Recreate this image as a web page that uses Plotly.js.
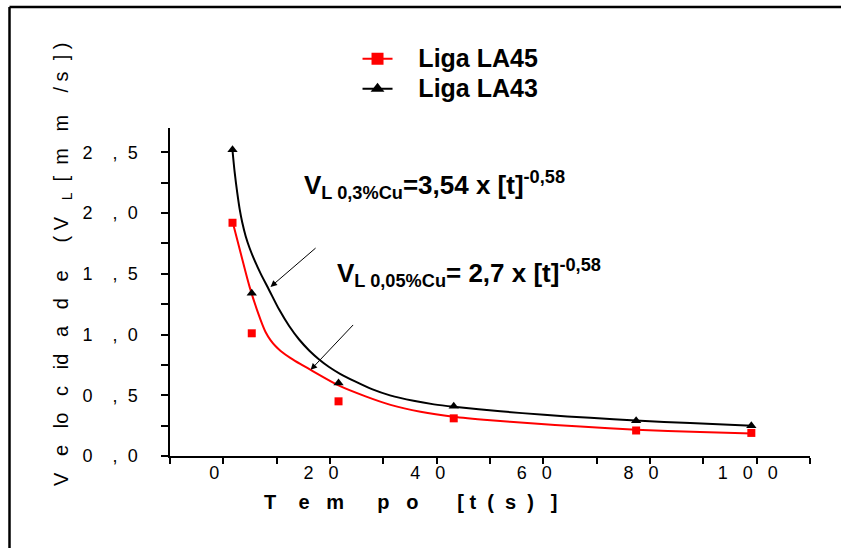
<!DOCTYPE html>
<html>
<head>
<meta charset="utf-8">
<script src="https://cdn.plot.ly/plotly-3.0.1.min.js"></script>
<style>html,body{margin:0;padding:0;background:#fff;}#chart{width:841px;height:548px;}</style>
</head>
<body>
<div id="chart"></div>
<script>
// ---- data ----
const tempo = [1.72, 5.33, 21.6, 43.2, 77.4, 99.0];
const velLA45 = [1.92, 1.01, 0.45, 0.31, 0.21, 0.19];
const velLA43 = [2.52, 1.34, 0.60, 0.41, 0.29, 0.25];

// fitted curves as drawn in the reference
const fitTempoLA43 = [1.72, 2.13, 2.60, 3.07, 3.54, 4.19, 4.94, 5.88, 7.00, 8.60, 10.47, 12.34, 14.21, 16.09, 17.96, 19.83,
                      21.89, 24.70, 27.98, 31.25, 35.66, 39.49, 43.24, 51.95, 60.13, 68.80, 77.32, 87.53, 99.10];
const fitLA43 = [2.515, 2.334, 2.170, 2.030, 1.924, 1.809, 1.710, 1.608, 1.501, 1.365, 1.205, 1.070, 0.959, 0.869, 0.795, 0.733,
                 0.677, 0.614, 0.548, 0.499, 0.454, 0.425, 0.405, 0.368, 0.339, 0.314, 0.292, 0.271, 0.249];
const fitTempoLA45 = [1.76, 3.26, 4.94, 7.00, 7.94, 8.88, 9.81, 10.75, 12.62, 14.49, 16.37, 21.80, 26.67, 31.35, 36.97,
                      43.15, 50.08, 57.0, 66.93, 77.42, 89.4, 99.1];
const fitLA45 = [1.924, 1.669, 1.390, 1.119, 1.019, 0.952, 0.903, 0.865, 0.806, 0.756, 0.709, 0.577, 0.491, 0.421, 0.364,
                 0.323, 0.294, 0.271, 0.242, 0.216, 0.198, 0.186];

const seriesNames = ['Liga LA45', 'Liga LA43'];
const xTickVals = [-10, 0, 10, 20, 30, 40, 50, 60, 70, 80, 90, 100, 110];
const xTickText = ['', '0', '', '2 0', '', '4 0', '', '6 0', '', '8 0', '', '1 0 0', ''];
const yTickVals = [0, 0.25, 0.5, 0.75, 1.0, 1.25, 1.5, 1.75, 2.0, 2.25, 2.5];
const yTickText = ['0 , 0', '', '0 , 5', '', '1 , 0', '', '1 , 5', '', '2 , 0', '', '2 , 5'];
const eq1 = 'V<sub>L 0,3%Cu</sub>=3,54 x [t]<sup>-0,58</sup>';
const eq2 = 'V<sub>L 0,05%Cu</sub>= 2,7 x [t]<sup>-0,58</sup>';

// ---- helpers ----
const NB = '\u00a0';
function sp(n) { return NB.repeat(n); }
function spaced(s, n) { return s.split(' ').join(sp(n)); }
const FONT = 'Liberation Sans, Arial, sans-serif';
const RED = '#ff0000';
const BLK = '#000000';
function legName(s) { return '<span style="font-size:25px">' + sp(3) + '<b>' + s + '</b></span>'; }

const traces = [
  {x: fitTempoLA45, y: fitLA45, mode: 'lines', line: {color: RED, width: 2, shape: 'spline', smoothing: 0.8}, showlegend: false, hoverinfo: 'skip'},
  {x: fitTempoLA43, y: fitLA43, mode: 'lines', line: {color: BLK, width: 2, shape: 'spline', smoothing: 0.8}, showlegend: false, hoverinfo: 'skip'},
  {x: tempo, y: velLA45, mode: 'markers', marker: {symbol: 'square', size: 8, color: RED}, showlegend: false},
  {x: tempo, y: velLA43, mode: 'markers', marker: {symbol: 'triangle-up', size: 9, color: BLK}, showlegend: false},
  {x: [null], y: [null], mode: 'lines+markers', name: legName(seriesNames[0]),
   line: {color: RED, width: 2}, marker: {symbol: 'square', size: 12, color: RED}},
  {x: [null], y: [null], mode: 'lines+markers', name: legName(seriesNames[1]),
   line: {color: BLK, width: 2}, marker: {symbol: 'triangle-up', size: 12, color: BLK}}
];

const yTitle = ['V','e','lo','c','id','a','d','e'].join(sp(3)) + sp(5) + '(' + sp(1) + 'V' + sp(3) + '<sub>L</sub>' + sp(2) +
  '[' + sp(2) + 'm' + sp(3) + 'm' + sp(4) + '/' + sp(1) + 's' + sp(2) + ']' + sp(1) + ')';
const xTitle = 'T' + sp(4) + 'e' + sp(3) + 'm' + sp(6) + 'p' + sp(3) + 'o' + sp(7) +
  '[' + sp(1) + 't' + sp(2) + '(' + sp(2) + 's' + sp(2) + ')' + sp(3) + ']';

const layout = {
  width: 841, height: 548,
  margin: {l: 170, r: 31, t: 128, b: 92},
  paper_bgcolor: '#fff', plot_bgcolor: '#fff',
  font: {family: FONT, color: BLK},
  showlegend: true,
  legend: {x: 0.293, y: 1.272, xanchor: 'left', yanchor: 'top', bgcolor: 'rgba(0,0,0,0)',
           font: {family: FONT, size: 20.7, color: BLK}, tracegroupgap: 0},
  xaxis: {range: [-10, 110], showgrid: false, zeroline: false, showline: true, linecolor: BLK, linewidth: 1.5,
          ticks: 'outside', ticklen: 6, tickwidth: 1.5, tickcolor: BLK,
          tickmode: 'array', tickvals: xTickVals, ticktext: xTickText.map(t => spaced(t, 3)),
          ticklabelshift: -9, ticklabelstandoff: -6, tickfont: {family: FONT, size: 18, color: BLK}},
  yaxis: {range: [0, 2.7], showgrid: false, zeroline: false, showline: true, linecolor: BLK, linewidth: 1.5,
          ticks: 'outside', ticklen: 7, tickwidth: 1.5, tickcolor: BLK,
          tickmode: 'array', tickvals: yTickVals,
          ticktext: yTickText.map(t => t ? t.replace(' , ', sp(4) + ',' + sp(2)) : ''),
          ticklabelstandoff: 20, tickfont: {family: FONT, size: 18, color: BLK}},
  annotations: [
    {xref: 'paper', yref: 'paper', x: (62 - 170) / 640, y: (456 - 265) / 328, text: yTitle, textangle: -90,
     showarrow: false, xanchor: 'center', yanchor: 'middle', font: {family: FONT, size: 20, color: BLK}},
    {xref: 'paper', yref: 'paper', x: (410 - 170) / 640, y: (456 - 502) / 328, text: '<b>' + xTitle + '</b>',
     showarrow: false, xanchor: 'center', yanchor: 'middle', font: {family: FONT, size: 20, color: BLK}},
    {xref: 'x', yref: 'y', x: 14.7, y: 2.227, text: '<b>' + eq1 + '</b>', showarrow: false,
     xanchor: 'left', yanchor: 'middle', font: {family: FONT, size: 26, color: BLK}},
    {xref: 'x', yref: 'y', x: 21.0, y: 1.506, text: '<b>' + eq2 + '</b>', showarrow: false,
     xanchor: 'left', yanchor: 'middle', font: {family: FONT, size: 26, color: BLK}},
    {xref: 'x', yref: 'y', axref: 'x', ayref: 'y', x: 8.84, y: 1.392, ax: 17.58, ay: 1.722, text: '',
     showarrow: true, arrowhead: 2, arrowsize: 1.3, arrowwidth: 1, arrowcolor: BLK},
    {xref: 'x', yref: 'y', axref: 'x', ayref: 'y', x: 16.37, y: 0.709, ax: 24.6, ay: 1.091, text: '',
     showarrow: true, arrowhead: 2, arrowsize: 1.3, arrowwidth: 1, arrowcolor: BLK}
  ],
  shapes: [
    {type: 'line', xref: 'paper', yref: 'paper', x0: (9.5 - 170) / 640, x1: (9.5 - 170) / 640,
     y0: (456 - 7) / 328, y1: (456 - 560) / 328, line: {color: BLK, width: 2.5}},
    {type: 'line', xref: 'paper', yref: 'paper', x0: (9.5 - 170) / 640, x1: (850 - 170) / 640,
     y0: (456 - 7) / 328, y1: (456 - 7) / 328, line: {color: BLK, width: 2.5}}
  ]
};

Plotly.newPlot('chart', traces, layout, {displayModeBar: false, responsive: false});
</script>
</body>
</html>
